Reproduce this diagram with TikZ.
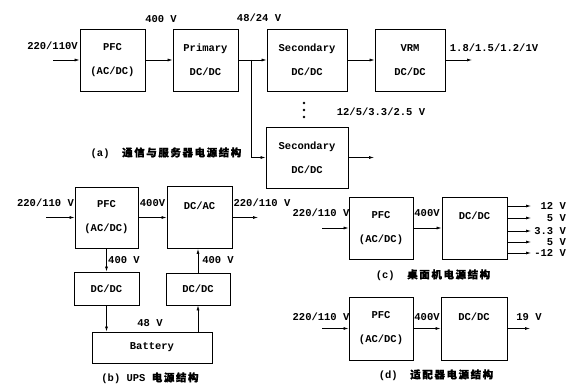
\documentclass[tikz,border=0pt]{standalone}
\usepackage{fontspec}
\setmainfont{Liberation Mono}
\newfontfamily\cjk{Noto Sans CJK SC}[LetterSpace=15,FakeBold=1]
\usetikzlibrary{arrows.meta}
\begin{document}
\begin{tikzpicture}[x=1pt,y=-1pt,
    blk/.style={draw, line width=0.9pt, inner sep=0pt, align=center,
      font=\fontsize{10.5}{24}\selectfont\bfseries},
    conn/.style={line width=0.7pt, -{Latex[length=5pt,width=3pt]}},
    lbl/.style={font=\fontsize{10.5}{12}\selectfont\bfseries, inner sep=0pt},
    captxt/.style={font=\fontsize{10.5}{12}\selectfont\bfseries, inner sep=0pt}]
    \useasboundingbox (0,0) rectangle (580,390);

    % (a) server
    \node[blk, minimum width=65pt, minimum height=62pt] (pfcA) at (112.5,60) {PFC\\(AC/DC)};
    \node[blk, minimum width=65pt, minimum height=62pt] (priA) at (205.5,60) {Primary\\DC/DC};
    \node[blk, minimum width=80pt, minimum height=62pt] (secA) at (307,60) {Secondary\\DC/DC};
    \node[blk, minimum width=70pt, minimum height=62pt] (vrmA) at (410,60) {VRM\\DC/DC};
    \node[blk, minimum width=82pt, minimum height=61pt] (secB) at (307,157.5) {Secondary\\DC/DC};

    \coordinate (inA) at (53,60);
    \coordinate (brA) at (251,60);
    \coordinate (outA) at (472,60);
    \coordinate (outAB) at (374,157.5);

    \node[lbl] (vinA) at (52.5,46) {220/110V};
    \node[lbl] (v400A) at (161,19) {400 V};
    \node[lbl] (v48A) at (259,18) {48/24 V};
    \node[lbl] (voutA) at (494,48) {1.8/1.5/1.2/1V};
    \node[lbl] (vsecA) at (381,112) {12/5/3.3/2.5 V};

    \draw[conn] (inA) -- (pfcA);
    \draw[conn] (pfcA) -- (priA);
    \draw[conn] (priA) -- (secA);
    \draw[conn] (brA) |- (secB.west);
    \draw[conn] (secA) -- (vrmA);
    \draw[conn] (vrmA) -- (outA);
    \draw[conn] (secB) -- (outAB);

    % dots
    \foreach \y in {103,110,117}
      \fill (304,\y) circle (1.4pt);

    \node[captxt] (capA) at (166,153) {(a)\ \ {\cjk 通信与服务器电源结构}};

    % (b) UPS
    \node[blk, minimum width=63pt, minimum height=61pt] (pfcB) at (106.5,217.5) {PFC\\(AC/DC)};
    \node[blk, minimum width=65pt, minimum height=62pt] (dcacB) at (199.5,217.5) {DC/AC\\\phantom{D}};
    \node[blk, minimum width=65pt, minimum height=33pt] (dcB1) at (106.5,288.5) {DC/DC};
    \node[blk, minimum width=64pt, minimum height=32pt] (dcB2) at (198,289) {DC/DC};
    \node[blk, minimum width=120pt, minimum height=31pt] (batB) at (152,347.5) {Battery};

    \coordinate (inB) at (46,217.5);
    \coordinate (outB) at (258,217.5);

    \node[lbl] (vinB) at (45.5,203) {220/110 V};
    \node[lbl] (v400B) at (152.5,203) {400V};
    \node[lbl] (voutB) at (262,203) {220/110 V};
    \node[lbl] (v400B2) at (124,260) {400 V};
    \node[lbl] (v400B3) at (218,260) {400 V};
    \node[lbl] (v48B) at (150,323) {48 V};

    \draw[conn] (inB) -- (pfcB);
    \draw[conn] (pfcB) -- (dcacB);
    \draw[conn] (dcacB) -- (outB);
    \draw[conn] (pfcB) -- (dcB1);
    \draw[conn] (dcB1.south) -- (dcB1.south |- batB.north);
    \draw[conn] (batB.north -| dcB2) -- (dcB2.south);
    \draw[conn] (dcB2) -- (dcB2 |- dcacB.south);

    \node[captxt] (capB) at (150,378) {(b)\ UPS\ {\cjk 电源结构}};

    % (c) desktop
    \node[blk, minimum width=64pt, minimum height=62pt] (pfcC) at (381,228) {PFC\\(AC/DC)};
    \node[blk, minimum width=65pt, minimum height=62pt] (dcC) at (474.5,228) {DC/DC\\\phantom{D}};

    \coordinate (inC) at (322,228);
    \node[lbl] (vinC) at (321,213) {220/110 V};
    \node[lbl] (v400C) at (427,213) {400V};

    \draw[conn] (inC) -- (pfcC);
    \draw[conn] (pfcC) -- (dcC);
    \foreach \y/\v [count=\i] in {206/12 V, 218/5 V, 231/3.3 V, 242/5 V, 253/-12 V} {
      \coordinate (oC\i) at (531,\y);
      \draw[conn] (dcC.east |- oC\i) -- (oC\i);
      \node[lbl, anchor=east] (vC\i) at (566,\y) {\v};
    }

    \node[captxt] (capC) at (433,275) {(c)\ \ {\cjk 桌面机电源结构}};

    % (d) adapter
    \node[blk, minimum width=64pt, minimum height=63pt] (pfcD) at (381,328.5) {PFC\\(AC/DC)};
    \node[blk, minimum width=66pt, minimum height=63pt] (dcD) at (474,328.5) {DC/DC\\\phantom{D}};

    \coordinate (inD) at (322,328.5);
    \coordinate (oD) at (530,328.5);
    \node[lbl] (vinD) at (321,317) {220/110 V};
    \node[lbl] (v400D) at (427,317) {400V};
    \node[lbl] (voutD) at (529,317) {19 V};

    \draw[conn] (inD) -- (pfcD);
    \draw[conn] (pfcD) -- (dcD);
    \draw[conn] (dcD) -- (oD);

    \node[captxt] (capD) at (436,375) {(d)\ \ {\cjk 适配器电源结构}};
\end{tikzpicture}
\end{document}
